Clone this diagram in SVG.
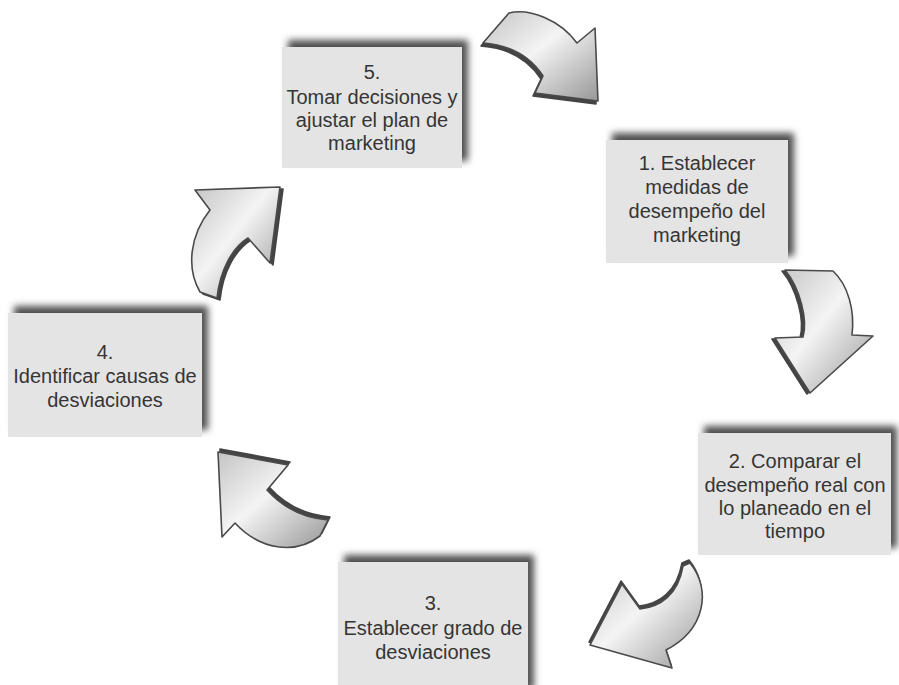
<svg xmlns="http://www.w3.org/2000/svg" width="899" height="685" viewBox="0 0 899 685">
<style>
.box{fill:#e4e4e4}
.shadow{fill:#505050;filter:url(#blur)}
.lbl{font-family:"Liberation Sans",Arial,sans-serif;font-size:20px;fill:#353535;text-anchor:middle}
.arr{fill:url(#silver);stroke:#4a4a4a;stroke-width:1.6;stroke-linejoin:round}
.side{fill:#444444;stroke:#444444;stroke-width:1.6;stroke-linejoin:round}
</style>
<defs>
<filter id="blur" x="-20%" y="-20%" width="140%" height="140%"><feGaussianBlur stdDeviation="3.5"/></filter>
<linearGradient id="silver" x1="0" y1="0" x2="1" y2="1">
<stop offset="0" stop-color="#c4c4c4"/>
<stop offset="0.45" stop-color="#f4f4f4"/>
<stop offset="1" stop-color="#979797"/>
</linearGradient>
</defs>
<rect width="899" height="685" fill="#ffffff"/>

<g id="node5">
<rect class="shadow" x="288" y="40" width="180" height="121"/>
<rect class="box" x="282" y="47" width="180" height="121"/>
<text class="lbl" x="372" y="79">5.</text>
<text class="lbl" x="372" y="104">Tomar decisiones y</text>
<text class="lbl" x="372" y="127">ajustar el plan de</text>
<text class="lbl" x="372" y="150">marketing</text>
</g>

<g id="node1">
<rect class="shadow" x="612" y="133" width="182" height="123"/>
<rect class="box" x="606" y="140" width="182" height="123"/>
<text class="lbl" x="697" y="170">1. Establecer</text>
<text class="lbl" x="697" y="194">medidas de</text>
<text class="lbl" x="697" y="218">desempeño del</text>
<text class="lbl" x="697" y="242">marketing</text>
</g>

<g id="node2">
<rect class="shadow" x="704" y="426" width="193" height="122"/>
<rect class="box" x="698" y="433" width="193" height="122"/>
<text class="lbl" x="795" y="468">2. Comparar el</text>
<text class="lbl" x="795" y="492">desempeño real con</text>
<text class="lbl" x="795" y="515">lo planeado en el</text>
<text class="lbl" x="795" y="538">tiempo</text>
</g>

<g id="node3">
<rect class="shadow" x="344" y="555" width="190" height="135"/>
<rect class="box" x="338" y="562" width="190" height="130"/>
<text class="lbl" x="433" y="610">3.</text>
<text class="lbl" x="433" y="635">Establecer grado de</text>
<text class="lbl" x="433" y="659">desviaciones</text>
</g>

<g id="node4">
<rect class="shadow" x="14" y="306" width="194" height="124"/>
<rect class="box" x="8" y="313" width="194" height="124"/>
<text class="lbl" x="105" y="359">4.</text>
<text class="lbl" x="105" y="383">Identificar causas de</text>
<text class="lbl" x="105" y="407">desviaciones</text>
</g>

<g id="connectors">
<g id="arrow5to1">
<path class="side" transform="translate(-2,3)" d="M483 43 L509 13 C530 8 560 20 577 43 L595 28 L598 101 L535 93 L543 76 C530 56 510 45 483 43 Z"/>
<path class="arr" d="M483 43 L509 13 C530 8 560 20 577 43 L595 28 L598 101 L535 93 L543 76 C530 56 510 45 483 43 Z"/>
</g>
<g id="arrow1to2">
<path class="side" transform="translate(-3,1)" d="M785 270 L833 271 C848 285 855 310 852 335 L873 336 L810 393 L775 338 L803 337 C808 320 800 288 785 270 Z"/>
<path class="arr" d="M785 270 L833 271 C848 285 855 310 852 335 L873 336 L810 393 L775 338 L803 337 C808 320 800 288 785 270 Z"/>
</g>
<g id="arrow2to3">
<path class="side" transform="translate(-1,-3)" d="M683 566 L690 563 C712 590 705 630 666 650 L672 668 L590 645 L622 584 L640 609 C660 607 678 595 683 566 Z"/>
<path class="arr" d="M683 566 L690 563 C712 590 705 630 666 650 L672 668 L590 645 L622 584 L640 609 C660 607 678 595 683 566 Z"/>
</g>
<g id="arrow3to4">
<path class="side" transform="translate(2,-3)" d="M218 452 L288 465 L267 490 C285 510 305 518 328 520 L320 536 C295 555 260 550 235 523 L222 537 Z"/>
<path class="arr" d="M218 452 L288 465 L267 490 C285 510 305 518 328 520 L320 536 C295 555 260 550 235 523 L222 537 Z"/>
</g>
<g id="arrow4to5">
<path class="side" transform="translate(3,2)" d="M200 292 C186 268 190 235 210 210 L195 190 L280 187 L270 263 L248 238 C232 248 220 270 217 298 Z"/>
<path class="arr" d="M200 292 C186 268 190 235 210 210 L195 190 L280 187 L270 263 L248 238 C232 248 220 270 217 298 Z"/>
</g>
</g>
</svg>
